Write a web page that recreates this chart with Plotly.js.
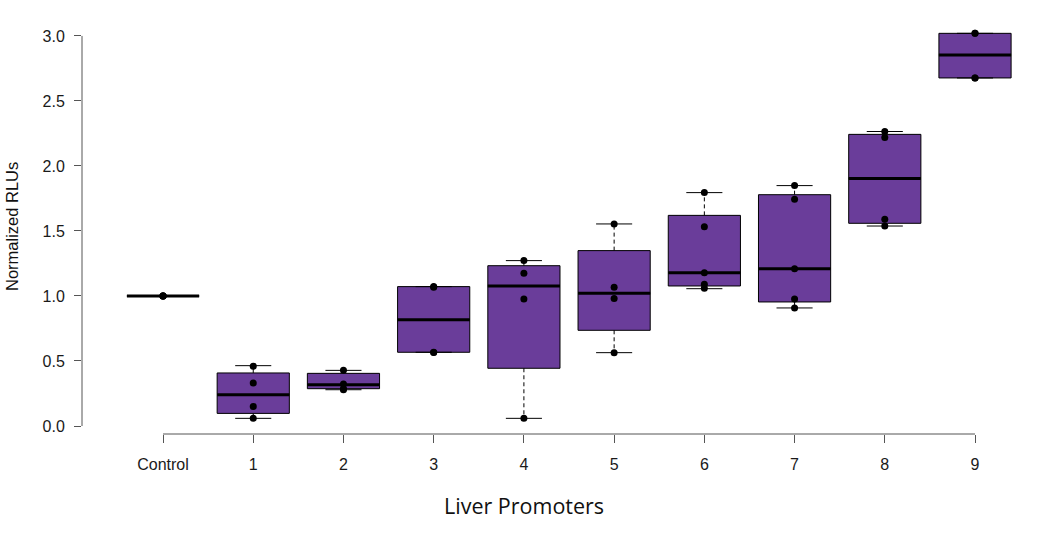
<!DOCTYPE html>
<html>
<head>
<meta charset="utf-8">
<script src="https://cdn.plot.ly/plotly-3.0.1.min.js"></script>
<style>html,body{margin:0;padding:0;background:#fff;}#chart{width:1048px;height:536px;}</style>
</head>
<body>
<div id="chart"></div>
<script>
// ---- data ----
const categories = ["Control", "1", "2", "3", "4", "5", "6", "7", "8", "9"];
const q1Vals     = [1.000, 0.097, 0.287, 0.567, 0.444, 0.736, 1.077, 0.954, 1.559, 2.677];
const medianVals = [1.000, 0.241, 0.318, 0.818, 1.077, 1.021, 1.179, 1.210, 1.903, 2.854];
const q3Vals     = [1.000, 0.408, 0.405, 1.072, 1.233, 1.349, 1.620, 1.779, 2.243, 3.020];
const lowerVals  = [1.000, 0.059, 0.279, 0.567, 0.059, 0.564, 1.056, 0.908, 1.538, 2.677];
const upperVals  = [1.000, 0.464, 0.428, 1.072, 1.272, 1.554, 1.795, 1.849, 2.265, 3.020];
const replicates = [
  [1.000, 1.000, 1.000, 1.000],
  [0.460, 0.330, 0.150, 0.059],
  [0.428, 0.323, 0.287, 0.279],
  [1.072, 1.068, 0.567, 0.565],
  [1.272, 1.174, 0.977, 0.059],
  [1.554, 1.067, 0.980, 0.564],
  [1.795, 1.533, 1.179, 1.090, 1.059],
  [1.849, 1.744, 1.210, 0.977, 0.908],
  [2.265, 2.218, 1.590, 1.538],
  [3.020, 3.020, 2.677, 2.677]
];
const yTicks = [0, 0.5, 1.0, 1.5, 2.0, 2.5, 3.0];

// ---- styling ----
const boxFill = "#6A3D9A";
const boxWidth = 0.8;
const capHalf = 0.2;
const axisColor = "#555555";
const tickFont = {family: "Liberation Sans, Arial, Helvetica, sans-serif", size: 16, color: "#1a1a1a"};

const pos = categories.map((c, i) => i);

// box bodies (no whiskers: fences at the hinges)
const boxTrace = {
  type: "box",
  x: pos,
  q1: q1Vals, median: medianVals, q3: q3Vals,
  lowerfence: q1Vals, upperfence: q3Vals,
  width: boxWidth,
  fillcolor: boxFill,
  line: {color: "#000", width: 1},
  boxpoints: false,
  whiskerwidth: 0,
  hoverinfo: "skip",
  showlegend: false
};

// dashed whiskers
const wx = [], wy = [];
pos.forEach((p, i) => {
  if (upperVals[i] > q3Vals[i]) { wx.push(p, p, null); wy.push(q3Vals[i], upperVals[i], null); }
  if (lowerVals[i] < q1Vals[i]) { wx.push(p, p, null); wy.push(q1Vals[i], lowerVals[i], null); }
});
const whiskerTrace = {
  type: "scatter", mode: "lines", x: wx, y: wy,
  line: {color: "#000", width: 1, dash: "4px,3px"},
  hoverinfo: "skip", showlegend: false
};

// staples (caps)
const cx = [], cy = [];
pos.forEach((p, i) => {
  cx.push(p - capHalf, p + capHalf, null); cy.push(upperVals[i], upperVals[i], null);
  cx.push(p - capHalf, p + capHalf, null); cy.push(lowerVals[i], lowerVals[i], null);
});
const capTrace = {
  type: "scatter", mode: "lines", x: cx, y: cy,
  line: {color: "#000", width: 1},
  hoverinfo: "skip", showlegend: false
};

// thick medians
const mx = [], my = [];
pos.forEach((p, i) => {
  mx.push(p - boxWidth / 2, p + boxWidth / 2, null); my.push(medianVals[i], medianVals[i], null);
});
const medianTrace = {
  type: "scatter", mode: "lines", x: mx, y: my,
  line: {color: "#000", width: 3},
  hoverinfo: "skip", showlegend: false
};

// replicate points
const px = [], py = [];
replicates.forEach((arr, i) => arr.forEach(v => { px.push(pos[i]); py.push(v); }));
const pointTrace = {
  type: "scatter", mode: "markers", x: px, y: py,
  marker: {color: "#000", size: 7},
  hoverinfo: "y", showlegend: false
};

const layout = {
  width: 1048, height: 536,
  margin: {l: 82, r: 0, t: 18, b: 102},
  paper_bgcolor: "#fff", plot_bgcolor: "#fff",
  showlegend: false,
  xaxis: {
    type: "linear",
    range: [-0.898, 9.809],
    tickmode: "array", tickvals: pos, ticktext: categories,
    ticks: "outside", ticklen: 8, tickwidth: 1, tickcolor: axisColor,
    ticklabelstandoff: 8,
    showgrid: false, zeroline: false, showline: false,
    tickfont: tickFont,
    fixedrange: true
  },
  yaxis: {
    range: [-0.0615, 3.138],
    tickmode: "array", tickvals: yTicks,
    tickformat: ".1f",
    ticks: "outside", ticklen: 7, tickwidth: 1, tickcolor: axisColor,
    ticklabelstandoff: 6,
    showgrid: false, zeroline: false, showline: false,
    tickfont: tickFont,
    fixedrange: true
  },
  shapes: [
    {type: "line", xref: "x", yref: "paper", x0: pos[0], x1: pos[pos.length - 1], y0: 0, y1: 0,
     line: {color: axisColor, width: 1}},
    {type: "line", xref: "paper", yref: "y", x0: 0, x1: 0, y0: yTicks[0], y1: yTicks[yTicks.length - 1],
     line: {color: axisColor, width: 1}}
  ],
  annotations: [
    {text: "Liver Promoters", xref: "paper", yref: "paper",
     x: (524 - 82) / 966, y: -(505 - 434) / 416, xanchor: "center", yanchor: "middle",
     showarrow: false, font: {family: "Open Sans, Noto Sans, sans-serif", size: 21.5, color: "#111"}},
    {text: "Normalized RLUs", xref: "paper", yref: "paper",
     x: -(82 - 12) / 966, y: (434 - 227) / 416, xanchor: "center", yanchor: "middle",
     textangle: -90, showarrow: false,
     font: {family: "Liberation Sans, Arial, Helvetica, sans-serif", size: 16.5, color: "#111"}}
  ]
};

Plotly.newPlot("chart", [boxTrace, whiskerTrace, capTrace, medianTrace, pointTrace], layout,
  {displayModeBar: false, staticPlot: true});
</script>
</body>
</html>
